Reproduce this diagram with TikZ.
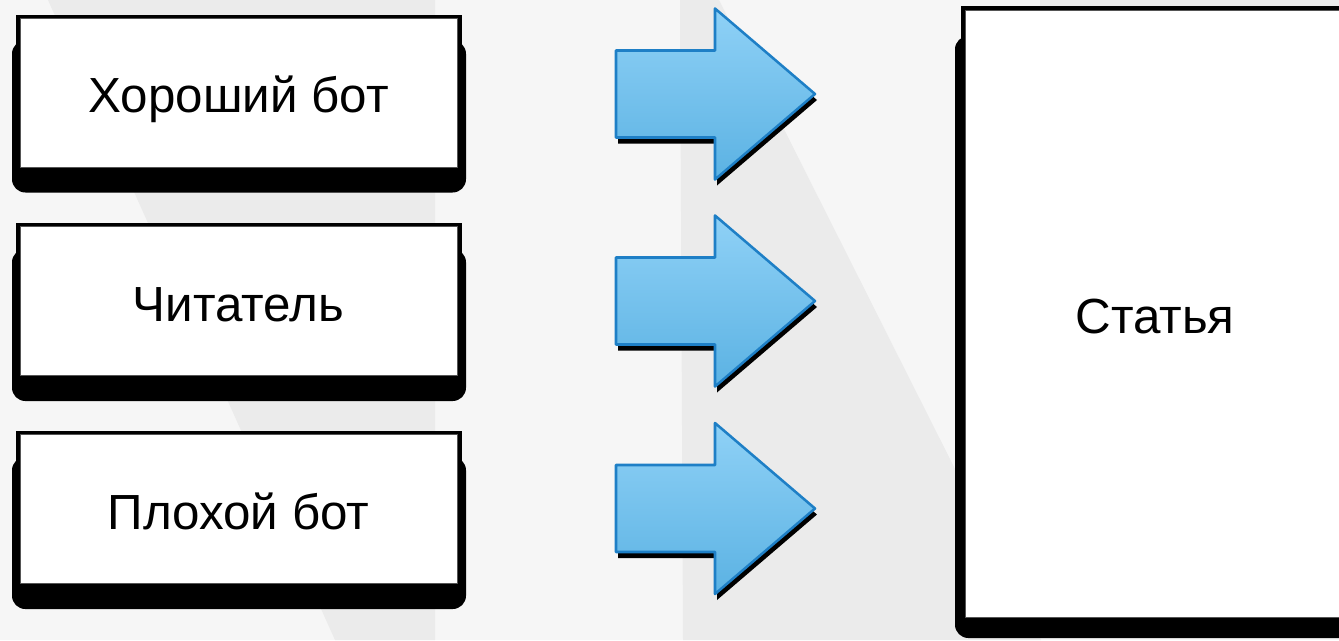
\documentclass[tikz,border=0pt]{standalone}
\usepackage{fontspec}
\setmainfont{Liberation Sans}
\definecolor{bglight}{HTML}{F6F6F6}
\definecolor{bgdark}{HTML}{EBEBEB}
\definecolor{arrtop}{HTML}{8FD1F6}
\definecolor{arrbot}{HTML}{5BB2E3}
\definecolor{arredge}{HTML}{1E7FC6}
\definecolor{boxedge}{HTML}{555555}
\newcommand{\lowtext}[1]{\raisebox{-15pt}[0pt][0pt]{#1}}
\tikzset{
  wbox/.style={draw=boxedge, line width=0.75pt, fill=white, inner sep=0pt, outer sep=0pt,
    font=\fontsize{37}{42}\selectfont, text=black},
  boxshadow/.style={fill=black, rounded corners=10pt},
  boxframe/.style={fill=black},
  blockarrow/.pic={
    \begin{scope}[shift={(2,6)}]
      \fill[black] (0,-43.5) -- (99,-43.5) -- (99,-85.5) -- (199,0) -- (99,85.5) -- (99,43.5) -- (0,43.5) -- cycle;
    \end{scope}
    \path[draw=arredge, line width=1.9pt, line join=round, top color=arrtop, bottom color=arrbot]
      (0,-43.5) -- (99,-43.5) -- (99,-85.5) -- (199,0) -- (99,85.5) -- (99,43.5) -- (0,43.5) -- cycle;
  }
}
\begin{document}
\begin{tikzpicture}[x=0.75pt, y=-0.75pt]
\useasboundingbox (0,0) rectangle (1339,640);
\clip (0,0) rectangle (1339,640);
% background
\fill[bglight] (0,0) rectangle (1339,640);
\fill[bgdark] (48,0) -- (435,0) -- (435,640) -- (335,640) -- cycle;
\fill[bgdark] (680,0) -- (719,0) -- (1041,640) -- (683,640) -- cycle;
\fill[bgdark] (1040,0) rectangle (1339,12);
% left boxes: shadows and frames
\foreach \c in {92.5,301,509}{
  \fill[boxshadow] (12,\c-52) rectangle (466,\c+100);
  \fill[boxframe] (16,\c-78) rectangle (462,\c+77);
}
\node[wbox, minimum width=327.75pt, minimum height=111.75pt] (b1) at (238.5,92.5) {\lowtext{Хороший бот}};
\node[wbox, minimum width=327.75pt, minimum height=111.75pt] (b2) at (238.5,301) {\lowtext{Читатель}};
\node[wbox, minimum width=327.75pt, minimum height=111.75pt] (b3) at (238.5,509) {\lowtext{Плохой бот}};
% big box
\fill[boxshadow] (955,36) rectangle (1360,638);
\fill[boxframe] (961,6) rectangle (1350,620);
\node[wbox, minimum width=285pt, minimum height=455.25pt] (art) at (1155,313.5) {\lowtext{Статья}};
% arrows
\pic at (616,94) {blockarrow};
\pic at (616,301) {blockarrow};
\pic at (616,508.5) {blockarrow};
\end{tikzpicture}
\end{document}
